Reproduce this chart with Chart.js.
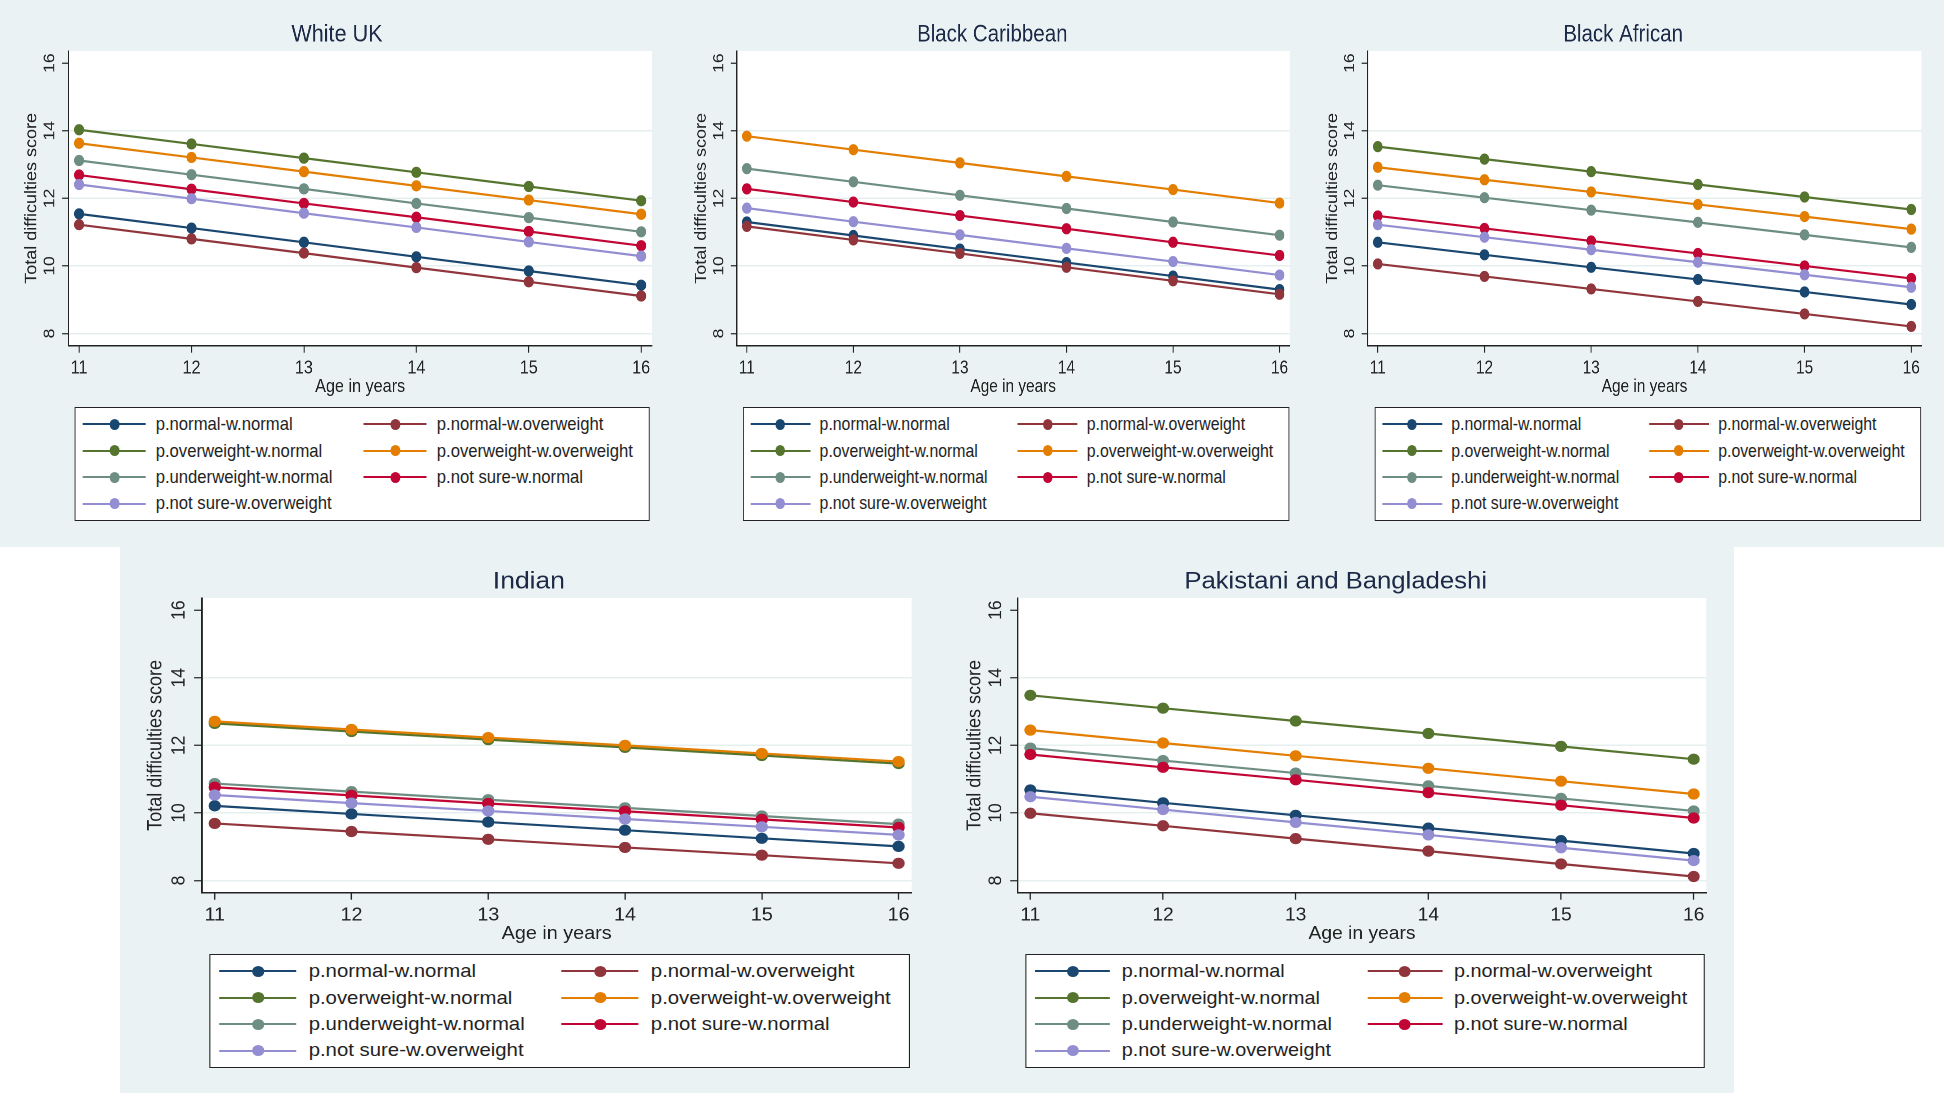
<!DOCTYPE html>
<html>
<head>
<meta charset="utf-8">
<script src="https://cdn.jsdelivr.net/npm/chart.js"></script>
<style>
  body { margin: 0; width: 1946px; height: 1096px; background: #fff; position: relative; overflow: hidden;
         font-family: "Liberation Sans", Arial, sans-serif; }
  .band { position: absolute; background: #eaf2f3; }
  .panel { position: absolute; transform-origin: 0 0; }
  .panel canvas { position: absolute; left: 0; top: 0; }
  .legend { position: absolute; top: 407px; height: 114px; box-sizing: border-box; border: 1.5px solid #222;
            background: #fff; display: grid; grid-template-columns: 49fr 51fr; grid-auto-rows: 26.4px; padding-top: 3.3px; }
  .item { position: relative; height: 26.4px; font-size: 18.5px; color: #222; line-height: 26.4px; white-space: nowrap; }
  .item .ln { position: absolute; left: 8px; top: 12.2px; width: 70px; height: 2px; }
  .item .dot { position: absolute; left: 37.5px; top: 7.7px; width: 11px; height: 11px; border-radius: 50%; }
  .item span { position: absolute; left: 89px; }
</style>
</head>
<body>
<div class="band" style="left:0;top:0;width:1944px;height:547px"></div>
<div class="band" style="left:120px;top:547px;width:1614px;height:546px"></div>
<div id="panels"></div>

<script>
const ages = [11, 12, 13, 14, 15, 16];
const xTicks = [11, 12, 13, 14, 15, 16];
const yTicks = [8, 10, 12, 14, 16];

const seriesNames = [
  'p.normal-w.normal', 'p.normal-w.overweight',
  'p.overweight-w.normal', 'p.overweight-w.overweight',
  'p.underweight-w.normal', 'p.not sure-w.normal',
  'p.not sure-w.overweight'
];
const seriesColors = ['#1a476f', '#90353b', '#55752f', '#e37e00', '#6e8e84', '#c10534', '#938dd2'];

// one row per series, same order as seriesNames
const whiteUK = [
  [11.54, 11.12, 10.70, 10.27, 9.85, 9.43],
  [11.22, 10.80, 10.38, 9.95, 9.53, 9.11],
  [14.03, 13.61, 13.19, 12.77, 12.35, 11.93],
  [13.63, 13.21, 12.79, 12.37, 11.95, 11.53],
  [13.12, 12.70, 12.28, 11.85, 11.43, 11.01],
  [12.69, 12.27, 11.85, 11.44, 11.02, 10.60],
  [12.41, 11.99, 11.56, 11.14, 10.71, 10.29]
];
const blackCaribbean = [
  [11.30, 10.90, 10.50, 10.10, 9.70, 9.30],
  [11.17, 10.77, 10.37, 9.96, 9.56, 9.16],
  [null, null, null, null, null, null],
  [13.84, 13.44, 13.05, 12.65, 12.26, 11.86],
  [12.88, 12.49, 12.09, 11.70, 11.30, 10.91],
  [12.28, 11.89, 11.49, 11.10, 10.70, 10.31],
  [11.71, 11.31, 10.92, 10.52, 10.13, 9.73]
];
const blackAfrican = [
  [10.70, 10.33, 9.96, 9.60, 9.23, 8.86],
  [10.06, 9.69, 9.32, 8.95, 8.58, 8.21],
  [13.53, 13.16, 12.79, 12.41, 12.04, 11.67],
  [12.92, 12.55, 12.19, 11.82, 11.46, 11.09],
  [12.39, 12.02, 11.65, 11.29, 10.92, 10.55],
  [11.48, 11.11, 10.74, 10.37, 10.00, 9.63],
  [11.22, 10.85, 10.48, 10.11, 9.74, 9.37]
];
const indian = [
  [10.21, 9.97, 9.73, 9.49, 9.25, 9.01],
  [9.69, 9.45, 9.22, 8.98, 8.75, 8.51],
  [12.65, 12.41, 12.17, 11.94, 11.70, 11.46],
  [12.71, 12.47, 12.23, 12.00, 11.76, 11.52],
  [10.87, 10.63, 10.39, 10.15, 9.91, 9.67],
  [10.76, 10.52, 10.28, 10.05, 9.81, 9.57],
  [10.53, 10.29, 10.06, 9.82, 9.59, 9.35]
];
const pakistaniBangladeshi = [
  [10.68, 10.30, 9.93, 9.55, 9.18, 8.80],
  [9.99, 9.62, 9.24, 8.87, 8.49, 8.12],
  [13.48, 13.10, 12.72, 12.35, 11.97, 11.59],
  [12.45, 12.07, 11.69, 11.32, 10.94, 10.56],
  [11.92, 11.55, 11.18, 10.80, 10.43, 10.06],
  [11.73, 11.35, 10.98, 10.60, 10.23, 9.85],
  [10.48, 10.10, 9.72, 9.35, 8.97, 8.59]
];

// layout of each panel (k = horizontal squeeze of the original image)
const panels = [
  { id: 'wuk', title: 'White UK', rows: whiteUK, k: 0.9, left: 16.8, top: 0, width: 711, yAxisW: 57.1, yTitlePad: 5.6, legLeft: 64.1, legWidth: 639.4 },
  { id: 'bc', title: 'Black Caribbean', rows: blackCaribbean, k: 0.855, left: 690.3, top: 0, width: 707, yAxisW: 54.6, yTitlePad: 2.9, legLeft: 61.6, legWidth: 639.8 },
  { id: 'ba', title: 'Black African', rows: blackAfrican, k: 0.855, left: 1320.2, top: 0, width: 709, yAxisW: 55.7, yTitlePad: 4.2, legLeft: 63.5, legWidth: 639.2 },
  { id: 'ind', title: 'Indian', rows: indian, k: 1.1, left: 139.8, top: 547, width: 707, yAxisW: 56.1, yTitlePad: 3.9, legLeft: 63.3, legWidth: 636.9 },
  { id: 'pak', title: 'Pakistani and Bangladeshi', rows: pakistaniBangladeshi, k: 1.07, left: 958.6, top: 547, width: 704, yAxisW: 54.9, yTitlePad: 4.1, legLeft: 62.2, legWidth: 635.3 }
];

const plotBg = {
  id: 'plotBg',
  beforeDraw(chart) {
    const { ctx, chartArea: a } = chart;
    ctx.save();
    ctx.fillStyle = '#ffffff';
    ctx.fillRect(a.left, a.top, a.right - a.left, a.bottom - a.top);
    ctx.restore();
  }
};

const font = '"Liberation Sans", Arial, sans-serif';

panels.forEach(p => {
  const wrap = document.createElement('div');
  wrap.className = 'panel';
  wrap.style.left = p.left + 'px';
  wrap.style.top = p.top + 'px';
  wrap.style.width = p.width + 'px';
  wrap.style.height = '530px';
  wrap.style.transform = 'scaleX(' + p.k + ')';
  document.getElementById('panels').appendChild(wrap);

  const canvas = document.createElement('canvas');
  canvas.width = p.width;
  canvas.height = 398;
  wrap.appendChild(canvas);

  const datasets = seriesNames.map((name, i) => ({
    label: name,
    data: ages.map((a, j) => ({ x: a, y: p.rows[i][j] })),
    borderColor: seriesColors[i],
    backgroundColor: seriesColors[i],
    pointBackgroundColor: seriesColors[i],
    pointBorderWidth: 0,
    pointRadius: 5.6,
    borderWidth: 2.2,
    tension: 0,
    clip: false,
    order: -i
  }));

  const chart = new Chart(canvas, {
    type: 'line',
    data: { datasets },
    plugins: [plotBg],
    options: {
      responsive: false,
      animation: false,
      devicePixelRatio: 2,
      layout: { padding: 0 },
      plugins: {
        legend: { display: false },
        tooltip: { enabled: false },
        title: {
          display: true,
          text: p.title,
          color: '#1c2a48',
          font: { family: font, size: 24, weight: 'normal' },
          padding: { top: 20.6, bottom: 1.6 }
        }
      },
      scales: {
        x: {
          type: 'linear',
          min: 10.905,
          max: 16.095,
          afterBuildTicks: s => { s.ticks = xTicks.map(v => ({ value: v })); },
          afterFit: s => { s.height = 52.3; },
          ticks: { color: '#222', font: { family: font, size: 18 }, padding: 4.8, maxRotation: 0 },
          grid: { drawOnChartArea: false, drawTicks: true, tickLength: 7, tickColor: '#222', tickWidth: 1.2 },
          border: { color: '#222', width: 1.5 },
          title: { display: true, text: 'Age in years', color: '#222', font: { family: font, size: 18 }, padding: { top: 0, bottom: 0 } }
        },
        y: {
          min: 7.64,
          max: 16.36,
          afterBuildTicks: s => { s.ticks = yTicks.map(v => ({ value: v })); },
          afterFit: s => { s.width = p.yAxisW; },
          ticks: { color: '#222', font: { family: font, size: 17.5 }, padding: 3.7, minRotation: 90, maxRotation: 90, crossAlign: 'center' },
          grid: {
            color: c => (c.tick && c.tick.value === 16) ? 'rgba(0,0,0,0)' : '#e6eff0',
            lineWidth: 1.5,
            drawTicks: true, tickLength: 7, tickColor: '#222', tickWidth: 1.2
          },
          border: { color: '#222', width: 1.5 },
          title: { display: true, text: 'Total difficulties score', color: '#222', font: { family: font, size: 18 }, padding: { top: p.yTitlePad, bottom: 0 } }
        }
      }
    }
  });

  const leg = document.createElement('div');
  leg.className = 'legend';
  leg.style.left = p.legLeft + 'px';
  leg.style.width = p.legWidth + 'px';
  chart.data.datasets.forEach(ds => {
    const item = document.createElement('div');
    item.className = 'item';
    item.innerHTML = '<div class="ln" style="background:' + ds.borderColor + '"></div>' +
      '<div class="dot" style="background:' + ds.borderColor + '"></div><span></span>';
    item.querySelector('span').textContent = ds.label;
    leg.appendChild(item);
  });
  wrap.appendChild(leg);
});
</script>
</body>
</html>
